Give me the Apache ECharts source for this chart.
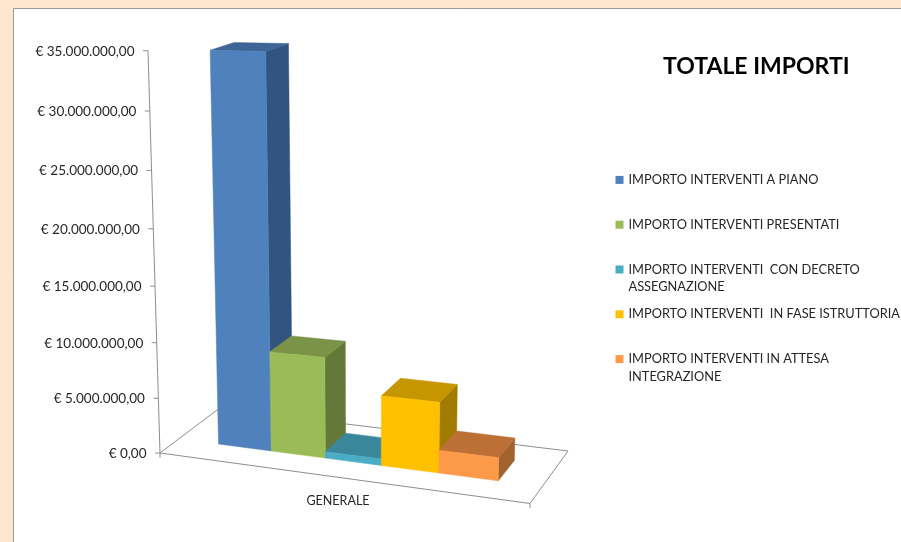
<!DOCTYPE html>
<html><head><meta charset="utf-8">
<style>html,body{margin:0;padding:0;background:#FEE5CD}#c{width:901px;height:542px}</style>
<script src="https://cdn.jsdelivr.net/npm/echarts@6/dist/echarts.min.js"></script>
</head><body><div id="c"></div>
<script>
const categories = ['GENERALE'];
const seriesNames = ['IMPORTO INTERVENTI A PIANO','IMPORTO INTERVENTI PRESENTATI','IMPORTO INTERVENTI  CON DECRETO ASSEGNAZIONE','IMPORTO INTERVENTI  IN FASE ISTRUTTORIA','IMPORTO INTERVENTI IN ATTESA INTEGRAZIONE'];
const legendLines = [['IMPORTO INTERVENTI A PIANO'],['IMPORTO INTERVENTI PRESENTATI'],['IMPORTO INTERVENTI  CON DECRETO','ASSEGNAZIONE'],['IMPORTO INTERVENTI  IN FASE ISTRUTTORIA'],['IMPORTO INTERVENTI IN ATTESA','INTEGRAZIONE']];
const seriesValues = [34600000, 8960000, 570000, 6150000, 2000000];
const yTicks = [0,5000000,10000000,15000000,20000000,25000000,30000000,35000000];
const yTickLabels = ['€ 0,00','€ 5.000.000,00','€ 10.000.000,00','€ 15.000.000,00','€ 20.000.000,00','€ 25.000.000,00','€ 30.000.000,00','€ 35.000.000,00'];
const frontColors = ['#4F81BD','#9BBB59','#4BACC6','#FFC000','#FD9A4A'];
const topColors   = ['#3D6595','#7A9346','#3A879C','#C69600','#BD7035'];
const sideColors  = ['#325480','#64783A','#2F6F80','#A17C00','#A0622E'];

const FONT = 'Lato, sans-serif';
// perspective projection of (u along x axis, w depth, v height), all 0..1
const P = {a:319.51,b:74.45,c:160,d:2.53,e:-15.68,f:453,g:-0.09527,h:0.07054,mx:-20.23,my:-405.12,mz:-0.0556};
function proj(u,w,v){
  const q = P.g*u+P.h*w+1+P.mz*v;
  return [(P.a*u+P.b*w+P.c+P.mx*v)/q,(P.d*u+P.e*w+P.f+P.my*v)/q];
}
const BAR_U0=0.119, BAR_UW=0.154, BAR_W0=0.305, BAR_W1=0.70;
function heightOf(params,api,val){
  const cs=params.coordSys;
  return (cs.y+cs.height-api.coord([0,val])[1])/cs.height;
}
function poly(pts,color){
  return {type:'polygon',shape:{points:pts},style:{fill:color,stroke:color,lineWidth:0.5}};
}
function barSeries(i){
  return {
    type:'custom',name:seriesNames[i],coordinateSystem:'cartesian2d',
    encode:{x:0,y:1},data:[[0,seriesValues[i]]],animation:false,silent:true,
    itemStyle:{color:frontColors[i]},
    renderItem(params,api){
      const v=heightOf(params,api,api.value(1));
      const u0=BAR_U0+i*BAR_UW,u1=u0+BAR_UW;
      return {type:'group',children:[
        poly([proj(u1,BAR_W0,0),proj(u1,BAR_W1,0),proj(u1,BAR_W1,v),proj(u1,BAR_W0,v)],sideColors[i]),
        poly([proj(u0,BAR_W0,v),proj(u1,BAR_W0,v),proj(u1,BAR_W1,v),proj(u0,BAR_W1,v)],topColors[i]),
        poly([proj(u0,BAR_W0,0),proj(u1,BAR_W0,0),proj(u1,BAR_W0,v),proj(u0,BAR_W0,v)],frontColors[i])
      ]};
    }
  };
}
const LINE={stroke:'#8E8E8E',lineWidth:1,fill:'none'};
const frameSeries={
  type:'custom',name:'frame',coordinateSystem:'cartesian2d',encode:{x:0,y:1},
  data:[[0,35000000]],animation:false,silent:true,
  renderItem(params,api){
    const a=proj(0,0,0),b=proj(0,1,0),c=proj(1,1,0),d=proj(1,0,0),top=proj(0,0,heightOf(params,api,api.value(1)));
    return {type:'group',children:[
      {type:'polyline',shape:{points:[d,a,b,c,d]},style:LINE},
      {type:'line',shape:{x1:top[0],y1:top[1],x2:a[0],y2:a[1]},style:LINE},
      {type:'line',shape:{x1:a[0],y1:a[1],x2:a[0],y2:a[1]+4.5},style:LINE},
      {type:'line',shape:{x1:d[0],y1:d[1],x2:d[0],y2:d[1]+4.5},style:LINE}
    ]};
  }
};
const tickSeries={
  type:'custom',name:'ticks',coordinateSystem:'cartesian2d',encode:{x:0,y:1},
  data:yTicks.map(t=>[0,t]),animation:false,silent:true,
  renderItem(params,api){
    const p=proj(0,0,heightOf(params,api,api.value(1)));
    return {type:'group',children:[
      {type:'line',shape:{x1:p[0]-5,y1:p[1],x2:p[0],y2:p[1]},style:LINE},
      {type:'text',x:p[0]-13.5,y:p[1]+0.5,style:{text:yTickLabels[params.dataIndex],align:'right',verticalAlign:'middle',fill:'#262626',font:'13.5px '+FONT}}
    ]};
  }
};
const chart=echarts.init(document.getElementById('c'),null,{renderer:'canvas'});
chart.setOption({
  animation:false,
  backgroundColor:'#FEE5CD',
  graphic:[{type:'rect',z:-10,shape:{x:13.5,y:8.5,width:920,height:560},style:{fill:'#fff',stroke:'#9A9A9A',lineWidth:1}}],
  title:{text:'TOTALE IMPORTI',left:663,top:55,itemGap:0,padding:0,textStyle:{fontFamily:FONT,fontSize:23,fontWeight:'bold',color:'#000'}},
  legend:{
    orient:'vertical',left:615.5,top:153.5,padding:0,itemWidth:8,itemHeight:8,itemGap:-8,
    data:seriesNames,icon:'rect',selectedMode:false,
    formatter:n=>{const l=legendLines[seriesNames.indexOf(n)];return '\n'+l[0]+'\n'+(l[1]||' ');},
    textStyle:{fontFamily:FONT,fontSize:12.8,lineHeight:17.6,color:'#262626'}
  },
  grid:{left:160,width:356,top:51,height:402},
  xAxis:{type:'category',data:categories,axisLine:{show:false},axisTick:{show:false},
    axisLabel:{margin:41,fontFamily:FONT,fontSize:12.5,color:'#262626'}},
  yAxis:{type:'value',min:0,max:35000000,interval:5000000,show:false,splitLine:{show:false}},
  series:[frameSeries,tickSeries].concat(seriesValues.map((_,i)=>barSeries(i)))
});
</script></body></html>
